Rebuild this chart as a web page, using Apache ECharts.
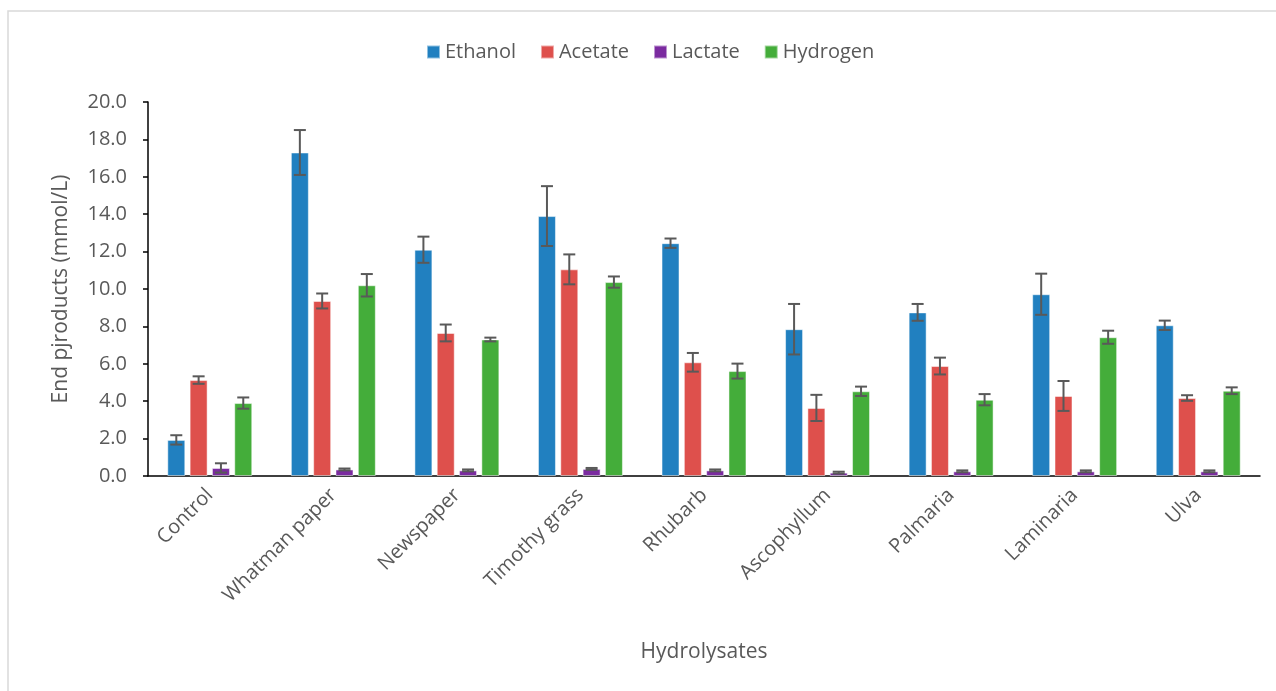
<!DOCTYPE html>
<html>
<head>
<meta charset="utf-8">
<script src="https://cdn.jsdelivr.net/npm/echarts@6/dist/echarts.min.js"></script>
<style>
  html, body { margin: 0; padding: 0; background: #fff; }
  #main { width: 1276px; height: 691px; }
</style>
</head>
<body>
<div id="main"></div>
<script>
var categories = ['Control', 'Whatman paper', 'Newspaper', 'Timothy grass', 'Rhubarb', 'Ascophyllum', 'Palmaria', 'Laminaria', 'Ulva'];
var seriesNames = ['Ethanol', 'Acetate', 'Lactate', 'Hydrogen'];
var ethanol  = [1.93, 17.3, 12.1, 13.9, 12.45, 7.85, 8.75, 9.72, 8.06];
var acetate  = [5.13, 9.36, 7.65, 11.05, 6.08, 3.64, 5.88, 4.28, 4.17];
var lactate  = [0.43, 0.35, 0.30, 0.38, 0.30, 0.18, 0.25, 0.25, 0.25];
var hydrogen = [3.90, 10.2, 7.30, 10.37, 5.61, 4.53, 4.08, 7.42, 4.56];
var ethanolErr  = [0.25, 1.2, 0.7, 1.6, 0.25, 1.35, 0.45, 1.1, 0.25];
var acetateErr  = [0.2, 0.4, 0.45, 0.8, 0.5, 0.7, 0.45, 0.8, 0.15];
var lactateErr  = [0.25, 0.05, 0.05, 0.05, 0.05, 0.05, 0.05, 0.05, 0.05];
var hydrogenErr = [0.3, 0.6, 0.1, 0.3, 0.4, 0.25, 0.3, 0.35, 0.18];
var yTicks = [0, 2, 4, 6, 8, 10, 12, 14, 16, 18, 20];

var colors = ['#2180c0', '#de504c', '#7b2ba0', '#44ad3a'];
var values = [ethanol, acetate, lactate, hydrogen];
var errors = [ethanolErr, acetateErr, lactateErr, hydrogenErr];
var fontColor = '#595959';
var barW = 18;
var barGap = 0.24;

var chart = echarts.init(document.getElementById('main'));

var series = [];
seriesNames.forEach(function (name, i) {
    series.push({
        name: name,
        type: 'bar',
        barWidth: barW,
        barGap: (barGap * 100) + '%',
        itemStyle: {
            color: colors[i],
            borderColor: 'rgba(255,255,255,0.5)',
            borderWidth: 1
        },
        data: values[i]
    });
});

// error bars, shifted onto each bar of the group
seriesNames.forEach(function (name, i) {
    var errData = values[i].map(function (v, k) {
        return [k, v - errors[i][k], v + errors[i][k]];
    });
    var offset = (i - 1.5) * barW * (1 + barGap);
    series.push({
        type: 'custom',
        name: name + ' err',
        silent: true,
        z: 5,
        encode: { x: 0, y: [1, 2] },
        renderItem: function (params, api) {
            var lo = api.coord([api.value(0), api.value(1)]);
            var hi = api.coord([api.value(0), api.value(2)]);
            var x = lo[0] + offset;
            var cap = 6;
            var st = { stroke: '#595959', lineWidth: 2 };
            return {
                type: 'group',
                children: [
                    { type: 'line', shape: { x1: x, y1: hi[1], x2: x, y2: lo[1] }, style: st },
                    { type: 'line', shape: { x1: x - cap, y1: hi[1], x2: x + cap, y2: hi[1] }, style: st },
                    { type: 'line', shape: { x1: x - cap, y1: lo[1], x2: x + cap, y2: lo[1] }, style: st }
                ]
            };
        },
        data: errData
    });
});

chart.setOption({
    animation: false,
    textStyle: { fontFamily: 'Open Sans' },
    graphic: [{
        type: 'rect',
        silent: true,
        z: -10,
        shape: { x: 8, y: 11, width: 1320, height: 720 },
        style: { fill: 'none', stroke: '#d9d9d9', lineWidth: 1.5 }
    }],
    legend: {
        data: seriesNames,
        left: 421,
        top: 37,
        icon: 'rect',
        itemWidth: 13,
        itemHeight: 13,
        itemGap: 24,
        textStyle: { color: fontColor, fontSize: 20, fontFamily: 'Open Sans' }
    },
    grid: { left: 148, right: 16, top: 102, bottom: 215 },
    xAxis: {
        type: 'category',
        data: categories,
        name: 'Hydrolysates',
        nameLocation: 'middle',
        nameGap: 166,
        nameTextStyle: { color: fontColor, fontSize: 21 },
        axisLine: { lineStyle: { color: '#000', width: 1.5 } },
        axisTick: { show: false },
        axisLabel: {
            rotate: 45,
            color: fontColor,
            fontSize: 20,
            margin: 16,
            interval: 0
        }
    },
    yAxis: {
        type: 'value',
        min: yTicks[0],
        max: yTicks[yTicks.length - 1],
        interval: 2,
        name: 'End pjroducts (mmol/L)',
        nameLocation: 'middle',
        nameGap: 76,
        nameTextStyle: { color: fontColor, fontSize: 21 },
        axisLine: { show: true, lineStyle: { color: '#000', width: 1.5 } },
        axisTick: { show: true, length: 5, lineStyle: { color: '#000', width: 1.5 } },
        splitLine: { show: false },
        axisLabel: {
            color: fontColor,
            fontSize: 20,
            margin: 21,
            formatter: function (v) { return v.toFixed(1); }
        }
    },
    series: series
});
</script>
</body>
</html>
